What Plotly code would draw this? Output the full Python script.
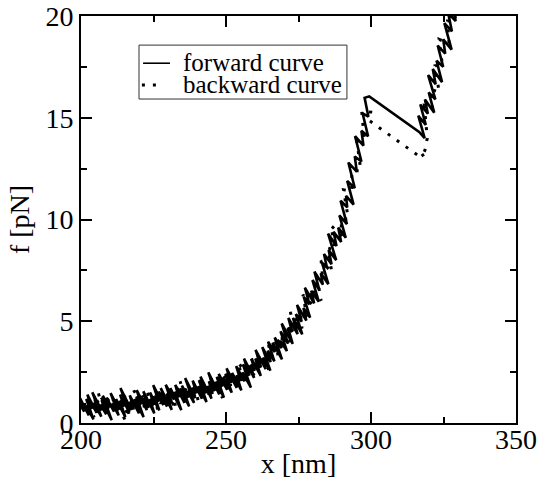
import plotly.graph_objects as go

# ---------------- data ----------------
fwd_x = [
    199.1, 201.1, 199.5, 202.7, 201.7, 204.3, 201.8, 203.8, 202.2, 205.4,
    204.4, 207.0, 203.9, 207.1, 207.0, 208.7, 207.1, 210.6, 207.5, 209.8,
    208.8, 211.4, 210.7, 213.0, 210.2, 213.1, 212.1, 215.3, 213.4, 214.8,
    213.5, 216.7, 213.6, 217.4, 216.7, 218.1, 216.8, 220.0, 218.4, 221.6,
    219.1, 220.8, 219.2, 222.7, 221.4, 223.4, 221.5, 225.3, 223.7, 225.1,
    223.8, 227.0, 225.4, 226.8, 224.9, 228.4, 227.1, 229.7, 227.5, 231.3,
    229.7, 231.4, 229.2, 232.1, 230.8, 234.6, 232.4, 233.8, 232.5, 235.7,
    234.1, 237.3, 234.8, 237.1, 236.7, 239.0, 235.9, 239.4, 238.4, 239.8,
    238.5, 241.7, 240.4, 243.3, 240.8, 243.1, 241.2, 245.0, 243.7, 245.4,
    244.1, 246.1, 243.9, 247.7, 246.4, 249.3, 246.8, 248.8, 247.5, 250.4,
    249.4, 252.0, 249.8, 251.8, 250.2, 253.7, 252.1, 255.3, 253.7, 255.1,
    253.5, 256.4, 255.7, 258.6, 255.8, 258.1, 256.2, 259.7, 258.4, 259.8,
    258.8, 262.0, 260.1, 262.1, 260.2, 263.7, 262.7, 265.3, 262.5, 265.4,
    264.4, 266.7, 264.5, 266.8, 266.1, 269.3, 266.8, 269.1, 268.7, 271.0,
    268.8, 271.4, 269.2, 273.0, 271.4, 272.8, 271.5, 274.7, 273.1, 276.3,
    274.1, 276.1, 274.5, 277.7, 276.7, 279.0, 276.8, 278.8, 277.2, 280.4,
    279.4, 282.0, 279.8, 282.1, 280.5, 283.4, 282.7, 285.3, 283.1, 284.8,
    283.8, 286.4, 285.4, 288.0, 285.2, 288.1, 287.1, 289.7, 288.7, 291.3,
    289.1, 291.7, 289.5, 291.8, 291.4, 294.0, 291.8, 294.4, 292.2, 295.1,
    294.4, 296.7, 294.5, 297.4, 296.7, 299.0, 297.1, 299.1, 297.8, 299.4,
    316.6, 318.5, 316.3, 318.9, 317.0, 319.6, 318.6, 321.8, 319.9, 322.2,
    319.7, 322.3, 321.3, 324.5, 322.6, 324.9, 323.0, 325.6, 324.9, 327.8,
    325.3, 327.9, 326.6, 329.2, 327.9, 329.6,
]
fwd_f = [
    1.05, 0.56, 1.26, 0.37, 0.87, 0.18, 1.18, 0.69, 1.39, 0.50,
    1.00, 0.31, 1.51, 0.62, 0.82, 0.43, 1.13, 0.14, 1.34, 0.75,
    1.25, 0.56, 0.96, 0.37, 1.47, 0.67, 1.18, 0.29, 1.09, 0.80,
    1.40, 0.51, 1.72, 0.63, 1.04, 0.75, 1.36, 0.47, 1.18, 0.29,
    1.30, 0.91, 1.62, 0.63, 1.24, 0.75, 1.56, 0.47, 1.18, 0.89,
    1.50, 0.62, 1.33, 1.05, 1.86, 0.88, 1.49, 0.81, 1.72, 0.64,
    1.35, 0.97, 1.88, 1.15, 1.71, 0.63, 1.54, 1.26, 1.87, 0.99,
    1.70, 0.82, 1.84, 1.25, 1.57, 0.99, 2.21, 1.22, 1.74, 1.46,
    2.08, 1.19, 1.81, 1.03, 2.05, 1.46, 2.28, 1.20, 1.82, 1.43,
    2.05, 1.57, 2.49, 1.41, 2.03, 1.25, 2.27, 1.79, 2.41, 1.63,
    2.15, 1.49, 2.42, 1.96, 2.69, 1.73, 2.46, 1.60, 2.33, 2.07,
    2.80, 2.05, 2.49, 1.74, 2.88, 2.33, 3.17, 2.22, 2.86, 2.61,
    3.15, 2.31, 3.17, 2.73, 3.59, 2.65, 3.21, 2.57, 3.73, 2.99,
    3.55, 3.03, 4.00, 3.48, 3.95, 3.13, 4.20, 3.68, 4.05, 3.53,
    4.50, 3.90, 4.89, 3.89, 4.68, 4.48, 5.17, 4.37, 5.16, 4.36,
    5.35, 4.98, 5.80, 5.03, 5.65, 5.18, 6.20, 5.83, 6.65, 5.88,
    6.50, 5.96, 7.02, 6.58, 7.44, 6.80, 7.36, 6.82, 7.88, 7.64,
    8.30, 7.80, 8.50, 8.00, 9.30, 8.70, 9.40, 8.90, 9.60, 9.10,
    10.20, 9.77, 10.93, 10.60, 11.16, 10.73, 11.90, 11.55, 12.80, 12.35,
    13.10, 12.85, 14.10, 13.63, 14.36, 14.09, 15.22, 15.05, 15.98, 16.05,
    14.30, 14.00, 15.10, 14.65, 15.65, 15.20, 15.90, 15.25, 16.25, 15.90,
    17.10, 16.65, 17.40, 16.75, 17.80, 17.50, 18.55, 18.15, 18.85, 18.35,
    19.65, 19.25, 20.15, 19.75, 20.65, 20.60,
]

bwd_x = [
    328.1, 329.2, 326.4, 326.9, 323.5, 324.6, 322.1, 323.5, 320.7, 321.2,
    318.4, 319.4, 318.6, 317.8, 318.4, 317.0, 316.0, 299.5,
    299.9, 296.8, 297.6, 295.1, 296.5, 293.4, 293.3, 290.5, 292.2, 289.7,
    289.9, 286.2, 287.6, 285.1, 286.5, 282.8, 283.3, 281.4, 282.8, 279.1,
    279.6, 276.5, 277.9, 275.7, 276.2, 272.2, 273.6, 271.1, 272.5, 269.4,
    269.3, 266.8, 267.9, 264.5, 265.6, 263.7, 264.8, 261.1, 261.3, 258.8,
    260.2, 257.4, 257.6, 254.2, 255.9, 253.7, 254.5, 251.1, 251.6, 248.5,
    249.3, 247.4, 248.8, 244.8, 245.9, 243.7, 244.2, 240.5, 241.6, 239.1,
    240.5, 237.4, 237.3, 234.2, 235.9, 232.8, 233.6, 231.7, 232.8, 229.1,
    230.2, 226.5, 227.6, 225.4, 226.5, 222.8, 223.3, 221.1, 221.9, 218.2,
    219.6, 217.7, 218.2, 214.5, 216.8, 213.4, 215.1, 211.1, 211.6, 208.8,
    209.9, 205.9, 207.3, 204.5, 206.2, 203.4, 204.5, 201.1, 201.6, 198.8,
]
bwd_f = [
    21.10, 19.75, 19.75, 18.65, 18.85, 17.60, 17.55, 16.25, 16.40, 15.45,
    15.60, 14.00, 13.40, 13.20, 13.05, 13.35, 13.17, 14.85,
    15.28, 15.32, 14.06, 13.90, 12.40, 12.40, 11.40, 11.46, 10.03, 10.00,
    9.20, 9.70, 8.50, 8.60, 7.40, 7.98, 7.16, 7.14, 6.02, 6.60,
    5.85, 6.30, 5.25, 5.40, 4.65, 5.46, 4.47, 4.78, 3.79, 4.30,
    3.85, 4.20, 3.35, 4.00, 3.15, 3.33, 2.51, 3.29, 2.77, 3.15,
    2.26, 2.77, 2.28, 2.99, 2.00, 2.33, 1.66, 2.39, 1.82, 2.45,
    1.81, 2.07, 1.23, 2.19, 1.45, 1.82, 1.28, 2.15, 1.41, 1.88,
    1.04, 1.71, 1.37, 2.04, 1.10, 1.77, 1.14, 1.41, 0.68, 1.55,
    0.82, 1.69, 0.96, 1.33, 0.60, 1.48, 0.96, 1.34, 0.72, 1.60,
    0.78, 1.06, 0.54, 1.42, 0.30, 1.09, 0.18, 1.17, 0.66, 1.25,
    0.54, 1.53, 0.72, 1.31, 0.40, 0.99, 0.28, 1.07, 0.56, 1.15,
]

x_ticks = [200, 250, 300, 350]
y_ticks = [0, 5, 10, 15, 20]
series_names = ["forward curve", "backward curve"]

FONT = "Liberation Serif, Times New Roman, Times, serif"

fig = go.Figure()
fig.add_trace(go.Scatter(
    x=bwd_x, y=bwd_f, mode="lines", name=series_names[1],
    line=dict(color="black", width=3, dash="3px,8px"), showlegend=False,
))
fig.add_trace(go.Scatter(
    x=fwd_x, y=fwd_f, mode="lines", name=series_names[0],
    line=dict(color="black", width=2.6), showlegend=False,
))

axis_common = dict(
    showline=True, linecolor="black", linewidth=2, mirror="allticks",
    ticks="inside", ticklen=11, tickwidth=2, tickcolor="black",
    showgrid=False, zeroline=False,
    tickfont=dict(family=FONT, size=28, color="black"),
)
fig.update_xaxes(
    range=[200, 350], tickvals=x_ticks, **axis_common,
    ticklabelstandoff=-10,
    minor=dict(ticks="inside", ticklen=6, tickwidth=2, tickcolor="black",
               tick0=225, dtick=50, showgrid=False),
    title=dict(text="x [nm]", font=dict(family=FONT, size=28, color="black"), standoff=0),
)
fig.update_yaxes(
    range=[0, 20], tickvals=y_ticks, **axis_common,
    minor=dict(ticks="inside", ticklen=6, tickwidth=2, tickcolor="black",
               tick0=2.5, dtick=5, showgrid=False),
    title=dict(text="f [pN]", font=dict(family=FONT, size=28, color="black"), standoff=8),
)

# legend (drawn inside the plot, like the original)
leg_font = dict(family=FONT, size=25, color="black")
shapes = [
    dict(type="rect", xref="x", yref="y", x0=220.0, x1=291.7, y0=15.92, y1=18.57,
         line=dict(color="#333333", width=1), fillcolor="white", layer="above"),
    dict(type="line", xref="x", yref="y", x0=221.4, x1=230.7, y0=17.68, y1=17.68,
         line=dict(color="black", width=1.6)),
    dict(type="line", xref="x", yref="y", x0=221.0, x1=226.6, y0=16.61, y1=16.61,
         line=dict(color="black", width=3, dash="3px,8px")),
]
annotations = [
    dict(xref="x", yref="y", x=234.8, y=17.71, text=series_names[0], showarrow=False,
         xanchor="left", yanchor="middle", font=leg_font, borderpad=0),
    dict(xref="x", yref="y", x=234.8, y=16.61, text=series_names[1], showarrow=False,
         xanchor="left", yanchor="middle", font=leg_font, borderpad=0),
]

fig.update_layout(
    width=540, height=480,
    margin=dict(l=81, r=24, t=16, b=57, autoexpand=False),
    paper_bgcolor="white", plot_bgcolor="white",
    showlegend=False, shapes=shapes, annotations=annotations,
    font=dict(family=FONT, color="black"),
)

fig.write_html("out.html", config={"displayModeBar": False},
               post_script="document.body.style.margin='0';")
